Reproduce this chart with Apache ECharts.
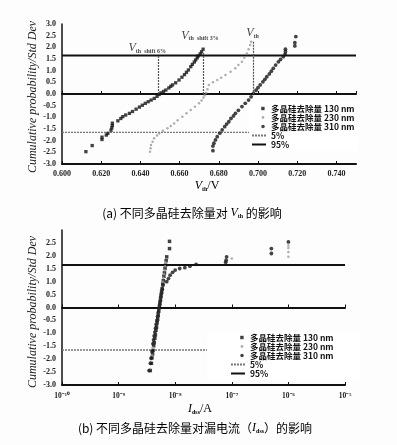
<!DOCTYPE html>
<html>
<head>
<meta charset="utf-8">
<script src="https://cdn.jsdelivr.net/npm/echarts@6/dist/echarts.min.js"></script>
<style>
html, body { margin: 0; padding: 0; background: #fff; }
#main { width: 397px; height: 445px; }
</style>
</head>
<body>
<div id="main"></div>
<script>
// series names (legend)
var names = ['多晶硅去除量 130 nm', '多晶硅去除量 230 nm', '多晶硅去除量 310 nm', '5%', '95%'];

// (a) Vth [V], cumulative probability [std dev]
var vth130 = [[0.6122,-2.47],[0.6154,-2.21],[0.6204,-1.95],[0.6204,-1.85],[0.6226,-1.76],[0.6234,-1.69],[0.6250,-1.55],
  [0.6254,-1.45],[0.6257,-1.35],[0.6257,-1.25],[0.6285,-1.15],[0.6300,-1.05],[0.6310,-0.97],[0.6325,-0.90],[0.6344,-0.83],
  [0.6360,-0.75],[0.6378,-0.65],[0.6395,-0.56],[0.6410,-0.48],[0.6425,-0.40],[0.6440,-0.33],[0.6455,-0.26],[0.6471,-0.19],
  [0.6485,-0.10],[0.6496,-0.02],[0.6505,0.05],[0.6518,0.11],[0.6530,0.17],[0.6545,0.26],[0.6555,0.33],[0.6564,0.39],
  [0.6580,0.48],[0.6597,0.60],[0.6612,0.72],[0.6625,0.83],[0.6635,0.93],[0.6645,1.03],[0.6657,1.17],[0.6665,1.27],
  [0.6675,1.37],[0.6682,1.46],[0.6690,1.55],[0.6695,1.63],[0.6705,1.72],[0.6712,1.81],[0.6720,1.92]];
var vth230 = [[0.6449,-2.47],[0.6452,-2.33],[0.6454,-2.19],[0.6462,-2.05],[0.6470,-1.90],[0.6485,-1.78],[0.6496,-1.69],
  [0.6515,-1.58],[0.6538,-1.47],[0.6555,-1.37],[0.6572,-1.26],[0.6590,-1.13],[0.6614,-0.97],[0.6635,-0.83],[0.6657,-0.69],
  [0.6678,-0.55],[0.6699,-0.40],[0.6712,-0.28],[0.6722,-0.15],[0.6728,-0.05],[0.6735,0.05],[0.6742,0.20],[0.6749,0.39],
  [0.6770,0.50],[0.6792,0.60],[0.6812,0.70],[0.6834,0.81],[0.6860,0.95],[0.6884,1.10],[0.6900,1.24],[0.6918,1.38],
  [0.6930,1.55],[0.6943,1.74],[0.6952,1.92],[0.6960,2.10],[0.6965,2.24]];
var vth310 = [[0.6770,-2.43],[0.6770,-2.23],[0.6775,-2.11],[0.6783,-1.97],[0.6792,-1.83],[0.6805,-1.68],[0.6817,-1.54],
  [0.6830,-1.40],[0.6840,-1.29],[0.6851,-1.19],[0.6862,-1.05],[0.6875,-0.94],[0.6885,-0.83],[0.6900,-0.70],[0.6918,-0.54],
  [0.6935,-0.40],[0.6952,-0.26],[0.6965,-0.12],[0.6977,0.03],[0.6990,0.16],[0.7000,0.27],[0.7011,0.39],[0.7025,0.52],
  [0.7035,0.63],[0.7045,0.74],[0.7058,0.86],[0.7068,0.98],[0.7078,1.10],[0.7090,1.24],[0.7104,1.38],[0.7115,1.48],
  [0.7129,1.60],[0.7138,1.70],[0.7140,1.81],[0.7140,1.92],[0.7188,2.06],[0.7188,2.20],[0.7193,2.46]];

// Vth shift markers: x, top of dotted drop line, label
var shiftX = [0.6493, 0.6720, 0.6977];
var shiftTop = [1.63, 1.76, 2.24];
var shiftLabel = [[0.6435, 1.97, 'shift 6%'], [0.6704, 2.49, 'shift 3%'], [0.6972, 2.60, '']];

// (b) Idss [A], cumulative probability [std dev]
var ids130 = [[3.63e-9,-2.44],[3.80e-9,-2.16],[3.89e-9,-1.95],[3.98e-9,-1.80],[4.07e-9,-1.66],[4.17e-9,-1.48],[4.27e-9,-1.36],
  [4.37e-9,-1.19],[4.47e-9,-1.06],[4.57e-9,-0.88],[4.68e-9,-0.76],[4.79e-9,-0.59],[4.90e-9,-0.46],[5.01e-9,-0.31],
  [5.13e-9,-0.14],[5.25e-9,0.01],[5.37e-9,0.16],[5.50e-9,0.29],[5.62e-9,0.46],[5.75e-9,0.61],[5.89e-9,0.74],[6.03e-9,0.91],
  [6.17e-9,1.04],[6.31e-9,1.21],[6.46e-9,1.34],[6.61e-9,1.51],[6.76e-9,1.64],[6.92e-9,1.81],[7.08e-9,1.96],[7.94e-9,2.28],
  [7.94e-9,2.56]];
var ids230 = [[3.55e-9,-2.40],[3.72e-9,-2.10],[3.85e-9,-1.85],[4.00e-9,-1.55],[4.10e-9,-1.40],[4.20e-9,-1.25],[4.30e-9,-1.10],
  [4.40e-9,-0.95],[4.52e-9,-0.80],[4.65e-9,-0.65],[4.78e-9,-0.50],[4.90e-9,-0.35],[5.02e-9,-0.20],[5.15e-9,-0.05],
  [5.28e-9,0.10],[5.40e-9,0.25],[5.52e-9,0.40],[5.65e-9,0.55],[5.78e-9,0.70],[5.90e-9,0.85],[6.05e-9,1.00],[6.20e-9,1.15],
  [6.35e-9,1.30],[6.50e-9,1.45],[6.65e-9,1.60],[6.80e-9,1.75],[1.0e-7,1.90],[1.0e-6,1.96],[1.0e-6,2.15],[1.0e-6,2.30],
  [1.0e-6,2.40]];
var ids310 = [[3.45e-9,-2.44],[3.65e-9,-2.16],[3.75e-9,-1.96],[3.90e-9,-1.70],[4.05e-9,-1.40],[4.15e-9,-1.25],[4.25e-9,-1.10],
  [4.38e-9,-0.95],[4.50e-9,-0.80],[4.62e-9,-0.65],[4.75e-9,-0.50],[4.88e-9,-0.35],[5.00e-9,-0.20],[5.15e-9,-0.05],
  [5.30e-9,0.10],[5.42e-9,0.25],[5.55e-9,0.40],[5.72e-9,0.55],[5.90e-9,0.70],[6.10e-9,0.87],[7.08e-9,1.00],[7.60e-9,1.12],
  [8.13e-9,1.25],[9.00e-9,1.36],[1.00e-8,1.45],[1.20e-8,1.51],[1.48e-8,1.54],[1.82e-8,1.60],[2.34e-8,1.67],[7.80e-8,1.75],
  [7.94e-8,1.83],[8.10e-8,1.96],[5.0e-7,2.09],[5.0e-7,2.28],[1.0e-6,2.54]];

// reference levels and axis ranges
var p95 = 1.645, p5 = -1.645;
var vthRange = [0.600, 0.750], vthStep = 0.02;
var idsRange = [1e-10, 1e-5];
var yRange = [-3, 3], yStep = 0.5;

var sup = {'-': '⁻', '0': '⁰', '1': '¹', '2': '²', '3': '³', '4': '⁴', '5': '⁵', '6': '⁶', '7': '⁷', '8': '⁸', '9': '⁹'};
function pow10(v) {
  var e = String(Math.round(Math.log(v) / Math.LN10));
  return '10' + e.split('').map(function (c) { return sup[c]; }).join('');
}

var serif = 'Liberation Serif';
var cjk = 'Noto Sans CJK SC';

function yAxisOf(grid, hideMax) {
  return {
    gridIndex: grid, type: 'value', min: yRange[0], max: yRange[1], interval: yStep,
    axisLine: { show: true, onZero: false, lineStyle: { color: '#111', width: 1.5 } },
    axisTick: { show: false }, splitLine: { show: false },
    axisLabel: { show: true, margin: 6, showMaxLabel: !hideMax, fontFamily: serif, fontSize: 8, fontWeight: 'bold', color: '#222',
      formatter: function (v) { return Number(v).toFixed(1); } }
  };
}

function scatter(name, data, xi, sym, size, color) {
  return { name: name, type: 'scatter', xAxisIndex: xi, yAxisIndex: xi,
    data: data, symbol: sym, symbolSize: size, itemStyle: { color: color }, silent: true, z: 3 };
}
function level(name, x0, x1, y, xi, dotted) {
  var c = dotted ? '#777' : '#111';
  return { name: name, type: 'line', xAxisIndex: xi, yAxisIndex: xi,
    data: [[x0, y], [x1, y]], symbol: 'none', silent: true, z: 2, itemStyle: { color: c },
    lineStyle: dotted ? { color: c, width: 1.3, type: [2, 1] } : { color: c, width: 2 } };
}
// legend icons: small marks in the right part of a fixed 14x6 box
var iconSquare = 'path://M0,0M14,6M9.2,1.3h3.4v3.4h-3.4z';
var iconDot = 'path://M0,0M14,6M11,1.6a1.4,1.4 0 1,0 0.01,0z';
var iconDotBig = 'path://M0,0M14,6M11,1.2a1.8,1.8 0 1,0 0.01,0z';
function legendAt(left, top, pad) {
  return {
    orient: 'vertical', left: left, top: top, itemGap: 0, itemWidth: 14, itemHeight: 6,
    padding: pad, backgroundColor: '#fff', selectedMode: false,
    data: [
      { name: names[0], icon: iconSquare },
      { name: names[1], icon: iconDot },
      { name: names[2], icon: iconDotBig },
      { name: names[3], itemStyle: { opacity: 0 } },
      { name: names[4], itemStyle: { opacity: 0 } }
    ],
    textStyle: { fontFamily: cjk, fontSize: 8.5, fontWeight: 'bold', color: '#111', lineHeight: 9 }
  };
}

var rich = {
  v: { fontFamily: serif, fontStyle: 'italic', fontSize: 12, color: '#111' },
  s: { fontFamily: serif, fontSize: 6, fontWeight: 'bold', color: '#111', verticalAlign: 'bottom', padding: [5, 0, 0, 0] },
  t: { fontFamily: serif, fontSize: 6, fontWeight: 'bold', color: '#111', verticalAlign: 'bottom', padding: [3, 0, 0, 3] },
  c: { fontFamily: cjk, fontSize: 12, color: '#222' },
  n: { fontFamily: serif, fontSize: 12, color: '#111' }
};
var yName = 'Cumulative probability/Std Dev';
var yNameStyle = { text: yName, fontFamily: serif, fontStyle: 'italic', fontSize: 12, fill: '#222', align: 'center', verticalAlign: 'middle' };

var chart = echarts.init(document.getElementById('main'));

var option = {
  backgroundColor: '#fdfdfd',
  animation: false,
  grid: [
    { left: 62, top: 24, width: 294, height: 140 },
    { left: 62, top: 230, width: 283, height: 155 }
  ],
  legend: [legendAt(249, 102, [2, 4, 2, 2]), legendAt(207, 331, [2, 26, 2, 23])],
  xAxis: [
    { gridIndex: 0, type: 'value', min: vthRange[0], max: vthRange[1], interval: vthStep,
      axisLine: { onZero: false, lineStyle: { color: '#111', width: 2 } },
      axisTick: { inside: true, length: 3, lineStyle: { color: '#111' } }, splitLine: { show: false },
      axisLabel: { margin: 6, showMaxLabel: false, fontFamily: serif, fontSize: 8, fontWeight: 'bold', color: '#222',
        formatter: function (v) { return Number(v).toFixed(3); } } },
    { gridIndex: 1, type: 'log', logBase: 10, min: idsRange[0], max: idsRange[1],
      axisLine: { onZero: false, lineStyle: { color: '#111', width: 2 } },
      axisTick: { inside: true, length: 3, lineStyle: { color: '#111' } }, splitLine: { show: false },
      axisLabel: { margin: 7, fontFamily: serif, fontSize: 7.5, fontWeight: 'bold', color: '#222', formatter: pow10 } },
    // axes crossing at zero (Excel style)
    { gridIndex: 0, type: 'value', position: 'top', min: vthRange[0], max: vthRange[1], interval: vthStep,
      axisLine: { onZero: true, onZeroAxisIndex: 0, lineStyle: { color: '#111', width: 2 } },
      axisTick: { inside: false, length: 3, lineStyle: { color: '#111' } }, axisLabel: { show: false }, splitLine: { show: false } },
    { gridIndex: 1, type: 'log', logBase: 10, position: 'top', min: idsRange[0], max: idsRange[1],
      axisLine: { onZero: true, onZeroAxisIndex: 1, lineStyle: { color: '#111', width: 2 } },
      axisTick: { inside: false, length: 3, lineStyle: { color: '#111' } }, axisLabel: { show: false }, splitLine: { show: false } }
  ],
  yAxis: [yAxisOf(0, false), yAxisOf(1, true)],
  series: [
    scatter(names[0], vth130, 0, 'rect', 3.3, '#111'),
    scatter(names[1], vth230, 0, 'circle', 2.5, '#9a9a9a'),
    scatter(names[2], vth310, 0, 'circle', 3.8, '#151515'),
    level(names[3], vthRange[0], vthRange[1], p5, 0, true),
    level(names[4], vthRange[0], vthRange[1], p95, 0, false),
    { type: 'scatter', xAxisIndex: 0, yAxisIndex: 0, symbolSize: 0, silent: true, z: 5,
      data: shiftLabel,
      label: { show: true, position: 'inside', rich: rich,
        formatter: function (p) { return '{v|V}{s|th}' + (p.value[2] ? '{t|' + p.value[2] + '}' : ''); } },
      markLine: { silent: true, symbol: 'none', label: { show: false },
        lineStyle: { color: '#555', width: 1.2, type: [2, 1] },
        data: shiftX.map(function (x, i) { return [{ coord: [x, shiftTop[i]] }, { coord: [x, 0] }]; }) } },
    scatter(names[0], ids130, 1, 'rect', 3.5, '#111'),
    scatter(names[1], ids230, 1, 'circle', 2.5, '#9a9a9a'),
    scatter(names[2], ids310, 1, 'circle', 3.8, '#151515'),
    level(names[3], idsRange[0], idsRange[1], p5, 1, true),
    level(names[4], idsRange[0], idsRange[1], p95, 1, false)
  ],
  graphic: [
    { type: 'text', x: 33, y: 97, rotation: Math.PI / 2, style: yNameStyle },
    { type: 'text', x: 33, y: 312, rotation: Math.PI / 2, style: yNameStyle },
    { type: 'text', x: 207, y: 186, style: { text: '{v|V}{s|th}{n|/V}', rich: rich, align: 'center', verticalAlign: 'middle' } },
    { type: 'text', x: 200, y: 409, style: { text: '{v|I}{s|dss}{n|/A}', rich: rich, align: 'center', verticalAlign: 'middle' } },
    { type: 'text', x: 192, y: 213, style: { text: '{c|(a) 不同多晶硅去除量对 }{v|V}{s|th}{c| 的影响}', rich: rich, align: 'center', verticalAlign: 'middle' } },
    { type: 'text', x: 195, y: 428, style: { text: '{c|(b) 不同多晶硅去除量对漏电流（}{v|I}{s|dss}{c|）的影响}', rich: rich, align: 'center', verticalAlign: 'middle' } }
  ]
};

chart.setOption(option);
window.onresize = chart.resize;
</script>
</body>
</html>
